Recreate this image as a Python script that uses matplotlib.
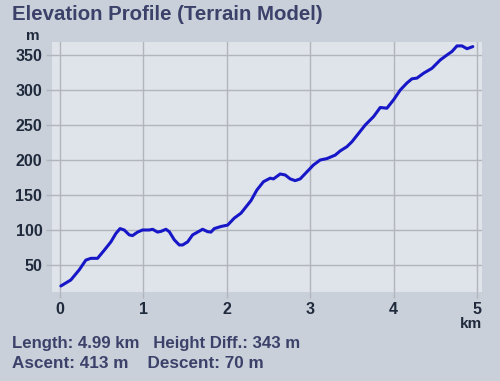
import numpy as np
import matplotlib
matplotlib.use('Agg')
from matplotlib import pyplot as plt

# distance (km) and elevation (m)
dist = [0.01, 0.13, 0.23, 0.31, 0.37, 0.45, 0.53, 0.61, 0.67, 0.72, 0.77, 0.83,
        0.87, 0.93, 0.99, 1.07, 1.11, 1.17, 1.21, 1.27, 1.31, 1.37, 1.43, 1.47,
        1.53, 1.59, 1.65, 1.71, 1.77, 1.81, 1.85, 1.93, 2.01, 2.09, 2.17, 2.23,
        2.29, 2.36, 2.44, 2.52, 2.56, 2.64, 2.70, 2.76, 2.82, 2.88, 2.96, 3.04,
        3.12, 3.20, 3.30, 3.36, 3.44, 3.50, 3.58, 3.66, 3.76, 3.84, 3.92, 4.00,
        4.08, 4.16, 4.22, 4.28, 4.36, 4.46, 4.56, 4.64, 4.70, 4.76, 4.82, 4.88,
        4.95]
elev = [20, 28.6, 43, 57, 59.5, 59.5, 71, 83, 95, 102, 100, 93,
        92, 97, 100, 100, 101, 97, 98, 101, 97.6, 86, 78.6, 78.6,
        83, 93, 97, 101, 97.6, 97, 102, 105, 107, 117, 124, 133,
        142, 157, 169, 174, 173, 180, 178.6, 173, 170.5, 173, 183, 193,
        200, 202, 207, 213, 219, 226, 238, 250, 262, 275, 274, 286,
        300, 310, 316, 317, 324, 331, 343, 350, 355, 363, 363, 359,
        362]

xticks = [0, 1, 2, 3, 4, 5]
yticks = [50, 100, 150, 200, 250, 300, 350]

title = 'Elevation Profile (Terrain Model)'
stats1 = 'Length: 4.99 km   Height Diff.: 343 m'
stats2 = 'Ascent: 413 m    Descent: 70 m'

plt.rcParams['font.family'] = ['Liberation Sans', 'DejaVu Sans']
plt.rcParams['font.weight'] = 'bold'

fig = plt.figure(figsize=(5, 3.81), dpi=100)
fig.patch.set_facecolor('#c9d0da')
ax = fig.add_axes([0.104, 0.2336, 0.86, 0.6562])
ax.set_facecolor('#dee4ea')

ax.plot(dist, elev, color='#1717c8', lw=2.2, solid_capstyle='round')

ax.set_xlim(-0.096, 5.06)
ax.set_ylim(11.4, 368.6)
ax.set_xticks(xticks)
ax.set_yticks(yticks)
ax.grid(True, color='#b3b5bc', lw=1.0)
ax.tick_params(length=4, width=1.0, color='#b3b5bc', pad=3,
               labelsize=11.5, labelcolor='#1f2a3c')
for s in ax.spines.values():
    s.set_visible(False)

fig.text(0.024, 0.962, title, fontsize=14.7, color='#3b4169',
         fontweight='bold', va='center', ha='left')
fig.text(0.066, 0.906, 'm', fontsize=11, color='#1f2a3c',
         fontweight='bold', va='center', ha='center')
fig.text(0.964, 0.15, 'km', fontsize=11, color='#1f2a3c',
         fontweight='bold', va='center', ha='right')
fig.text(0.024, 0.099, stats1, fontsize=12.1, color='#3b4169',
         fontweight='bold', va='center', ha='left')
fig.text(0.024, 0.047, stats2, fontsize=12.3, color='#3b4169',
         fontweight='bold', va='center', ha='left')

fig.savefig('out.png', dpi=100, facecolor=fig.get_facecolor())
